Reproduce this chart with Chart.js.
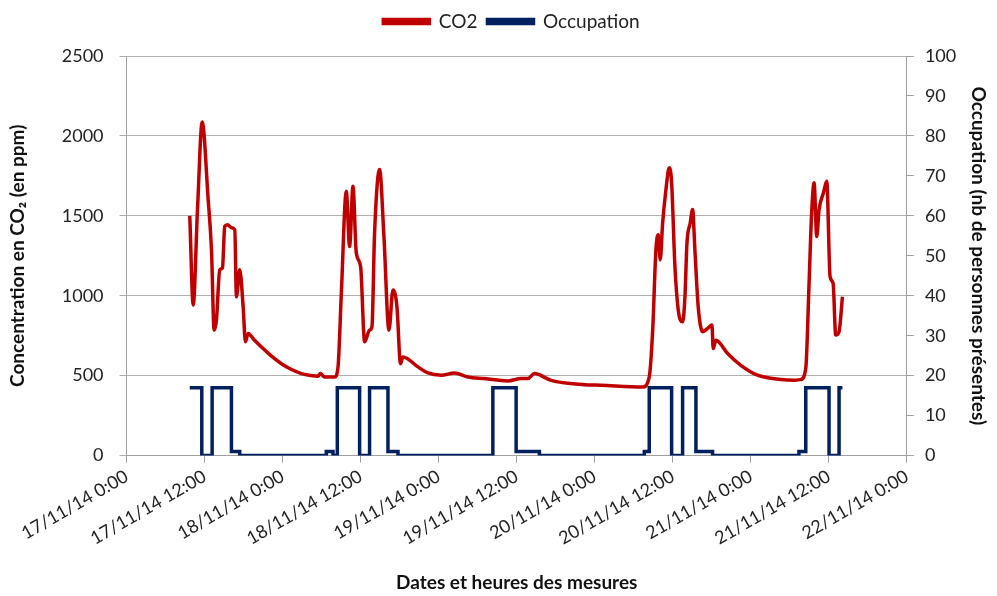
<!DOCTYPE html>
<html>
<head>
<meta charset="utf-8">
<script src="https://cdn.jsdelivr.net/npm/chart.js@4/dist/chart.umd.min.js"></script>
<style>
  html, body { margin: 0; padding: 0; background: #fff; }
  #wrap { width: 997px; height: 596px; }
</style>
</head>
<body>
<div id="wrap"><canvas id="co2Chart" width="997" height="596"></canvas></div>
<script>
// Hours since 17/11/14 0:00 and CO2 concentration (ppm)
const co2Hours = [
  9.72, 10.25, 10.91, 11.63, 12.55, 13.06, 13.47, 13.82, 14.33, 14.75, 15.10, 15.51, 16.13, 16.64,
  16.90, 17.40, 17.93, 18.28, 18.69, 19.6, 20.74, 22.2, 23.81, 25.3, 26.88, 28.2, 29.45, 29.80,
  30.46, 32.00, 32.52, 33.03, 33.79, 34.30, 34.82, 35.33, 35.99, 36.61, 37.37, 37.74, 38.14,
  38.91, 39.58, 40.35, 40.97, 41.58, 42.13, 42.50, 44.81, 46.34, 48.39, 50.43, 52.49, 55.04,
  58.63, 60.68, 61.70, 62.72, 65.28, 70.40, 72.96, 79.37, 80.38, 80.91, 81.41, 81.77, 82.07,
  82.44, 82.95, 83.46, 83.82, 84.33, 84.84, 85.51, 85.87, 86.18, 86.68, 87.05, 87.40, 87.91,
  88.59, 89.35, 90.02, 90.22, 90.63, 92.43, 94.47, 97.03, 100.61, 102.66, 103.69, 104.45,
  104.96, 105.33, 105.73, 106.14, 106.50, 107.17, 107.68, 108.19, 108.65, 109.06, 109.57, 110.09
];
const co2Values = [
  1500, 942, 1540, 2087, 1602, 1288, 785, 848, 1162, 1175, 1434, 1445, 1426, 1413,
  994, 1162, 931, 712, 764, 725, 680, 625, 575, 540, 513, 502, 496, 513,
  492, 492, 555, 1016, 1654, 1308, 1685, 1267, 1183, 712, 785, 806, 1392,
  1790, 1371, 785, 1036, 931, 575, 617, 555, 517, 503, 517, 492, 482,
  467, 482, 482, 513, 471, 444, 440, 429, 492, 785, 1288, 1382, 1225,
  1455, 1665, 1801, 1707, 1183, 911, 837, 994, 1329, 1455, 1539, 1288, 931,
  775, 796, 817, 670, 722, 639, 565, 503, 476, 471, 476, 545,
  1079, 1497, 1707, 1371, 1539, 1644, 1717, 1120, 1079, 754, 775, 994
];

// Occupation: hour at which the head count changes, and the new count
const occHours = [
  9.72, 11.57, 13.16, 16.13, 17.40, 30.72, 31.75, 32.41, 35.84, 37.37, 40.20, 41.74,
  56.33, 59.91, 63.49, 79.62, 80.38, 83.82, 85.51, 87.56, 90.12, 103.40, 104.45,
  108.03, 109.57, 110.09
];
const occValues = [
  17, 0, 17, 1, 0, 1, 0, 17, 0, 17, 1, 0,
  17, 1, 0, 1, 17, 0, 17, 1, 0, 1, 17,
  0, 17, 17
];

// x tick labels every 12 h
const xTickLabels = [
  '17/11/14 0:00', '17/11/14 12:00', '18/11/14 0:00', '18/11/14 12:00',
  '19/11/14 0:00', '19/11/14 12:00', '20/11/14 0:00', '20/11/14 12:00',
  '21/11/14 0:00', '21/11/14 12:00', '22/11/14 0:00'
];

const FONT = 'Lato, "Open Sans", sans-serif';
const red = '#C00000';
const navy = '#002060';
const grid = '#B0B0B0';
const axisLine = '#A0A0A0';
const textColor = '#222';

// extra room under the legend, and nudge it a little to the right
const legendGap = {
  id: 'legendGap',
  beforeInit(chart) {
    const fit = chart.legend.fit;
    chart.legend.fit = function () {
      fit.bind(chart.legend)();
      this.height += 15;
    };
  },
  afterLayout(chart) {
    chart.legend.left += 10;
    chart.legend.right += 10;
  }
};

new Chart(document.getElementById('co2Chart'), {
  type: 'line',
  data: {
    datasets: [{
      label: 'CO2',
      data: co2Hours.map((h, i) => ({ x: h, y: co2Values[i] })),
      borderColor: red,
      backgroundColor: red,
      borderWidth: 3.5,
      pointRadius: 0,
      cubicInterpolationMode: 'monotone',
      yAxisID: 'y'
    }, {
      label: 'Occupation',
      data: occHours.map((h, i) => ({ x: h, y: occValues[i] })),
      borderColor: navy,
      backgroundColor: navy,
      borderWidth: 3.5,
      pointRadius: 0,
      stepped: true,
      yAxisID: 'y1'
    }]
  },
  plugins: [legendGap],
  options: {
    responsive: false,
    animation: false,
    layout: { padding: { top: 2, left: 6, right: 0, bottom: 2 } },
    plugins: {
      legend: {
        position: 'top',
        labels: {
          font: { family: FONT, size: 19 },
          color: textColor,
          boxWidth: 46,
          boxHeight: 4,
          padding: 10
        }
      },
      tooltip: { enabled: false }
    },
    scales: {
      x: {
        type: 'linear',
        min: 0,
        max: 120,
        grid: { drawOnChartArea: false, color: axisLine, tickLength: 7 },
        border: { color: axisLine },
        ticks: {
          stepSize: 12,
          maxRotation: 30,
          minRotation: 30,
          font: { family: FONT, size: 18 },
          color: textColor,
          callback: v => xTickLabels[v / 12]
        },
        title: {
          display: true,
          text: 'Dates et heures des mesures',
          font: { family: FONT, size: 19, weight: 'bold' },
          color: '#111',
          padding: { top: 19, bottom: 0 }
        }
      },
      y: {
        position: 'left',
        min: 0,
        max: 2500,
        grid: { color: grid, tickLength: 7 },
        border: { color: axisLine },
        ticks: {
          stepSize: 500,
          font: { family: FONT, size: 18 },
          color: textColor,
          padding: 16,
          callback: v => String(v)
        },
        title: {
          display: true,
          text: 'Concentration en CO₂ (en ppm)',
          font: { family: FONT, size: 19, weight: 'bold' },
          color: '#111',
          padding: { top: 0, bottom: 17 }
        }
      },
      y1: {
        position: 'right',
        min: 0,
        max: 100,
        grid: { drawOnChartArea: false, color: axisLine, tickLength: 7 },
        border: { color: axisLine },
        ticks: {
          stepSize: 10,
          font: { family: FONT, size: 18 },
          color: textColor,
          padding: 11
        },
        title: {
          display: true,
          text: 'Occupation (nb de personnes présentes)',
          font: { family: FONT, size: 19, weight: 'bold' },
          color: '#111',
          padding: { top: 7, bottom: 0 }
        }
      }
    }
  }
});
</script>
</body>
</html>
